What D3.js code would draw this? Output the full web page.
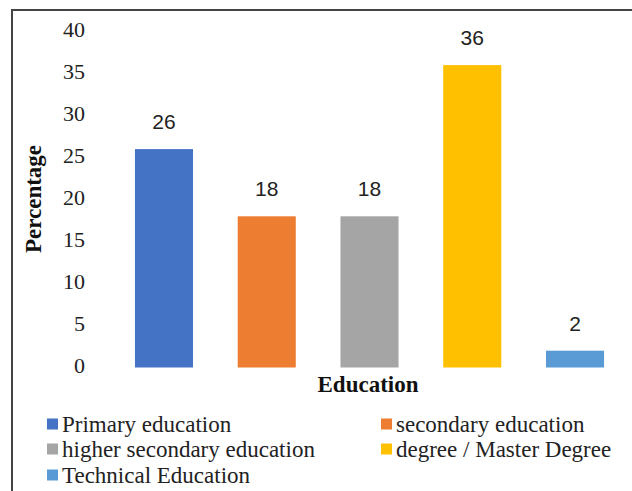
<!DOCTYPE html>
<html lang="en">
<head>
<meta charset="UTF-8">
<title>Education</title>
<script src="https://d3js.org/d3.v7.min.js"></script>
<style>
  body { margin: 0; background: #fff; }
  .value { font: 21px "Liberation Sans", "DejaVu Sans", sans-serif; fill: #222; }
  .title { font: bold 23px "Liberation Serif", serif; fill: #111; }
  .legend text { font: 23px "Liberation Serif", serif; fill: #222; }
</style>
</head>
<body>
<svg id="chart" width="632" height="491"></svg>
<script>
  const categories = ["Primary education", "secondary education", "higher secondary education",
                      "degree / Master Degree", "Technical Education"];
  const values = [26, 18, 18, 36, 2];
  const colors = ["#4472C4", "#ED7D31", "#A5A5A5", "#FFC000", "#5B9BD5"];
  const yTicks = [0, 5, 10, 15, 20, 25, 30, 35, 40];

  const svg = d3.select("#chart");

  // frame (only top and left visible)
  svg.append("rect")
    .attr("x", 12).attr("y", 10)
    .attr("width", 700).attr("height", 600)
    .attr("fill", "none").attr("stroke", "#444").attr("stroke-width", 2);

  const x = d3.scaleBand().domain(categories).range([112.6, 626.4]).paddingInner(0.435).paddingOuter(0.2175);
  const y = d3.scaleLinear().domain([0, 40]).range([367.5, 31.5]);

  const yAxis = svg.append("g")
    .attr("transform", "translate(89,0)")
    .call(d3.axisLeft(y).tickValues(yTicks).tickSize(0).tickPadding(4))
    .attr("font-family", "Liberation Serif, serif")
    .attr("font-size", 22);
  yAxis.select(".domain").remove();
  yAxis.selectAll(".tick text").attr("dy", "0.22em").attr("fill", "#222");

  svg.selectAll(".bar")
    .data(values)
    .join("rect")
    .attr("class", "bar")
    .attr("x", (d, i) => x(categories[i]))
    .attr("y", d => y(d))
    .attr("width", x.bandwidth())
    .attr("height", d => y(0) - y(d))
    .attr("fill", (d, i) => colors[i]);

  svg.selectAll(".value")
    .data(values)
    .join("text")
    .attr("class", "value")
    .attr("x", (d, i) => x(categories[i]) + x.bandwidth() / 2)
    .attr("y", d => y(d) - 20)
    .attr("text-anchor", "middle")
    .text(d => d);

  svg.append("text")
    .attr("class", "title")
    .attr("transform", "translate(41,199) rotate(-90)")
    .attr("text-anchor", "middle")
    .text("Percentage");

  svg.append("text")
    .attr("class", "title")
    .attr("x", 368).attr("y", 392)
    .attr("text-anchor", "middle")
    .text("Education");

  // legend
  const legendPos = [[47, 424], [381, 424], [47, 449], [381, 449], [47, 475]];
  const legend = svg.append("g").attr("class", "legend")
    .selectAll("g")
    .data(categories)
    .join("g")
    .attr("transform", (d, i) => `translate(${legendPos[i][0]},${legendPos[i][1]})`);
  legend.append("rect")
    .attr("x", 0).attr("y", -5.5).attr("width", 11).attr("height", 11)
    .attr("fill", (d, i) => colors[i]);
  legend.append("text")
    .attr("x", 15).attr("dy", "0.35em")
    .text(d => d);
</script>
</body>
</html>
